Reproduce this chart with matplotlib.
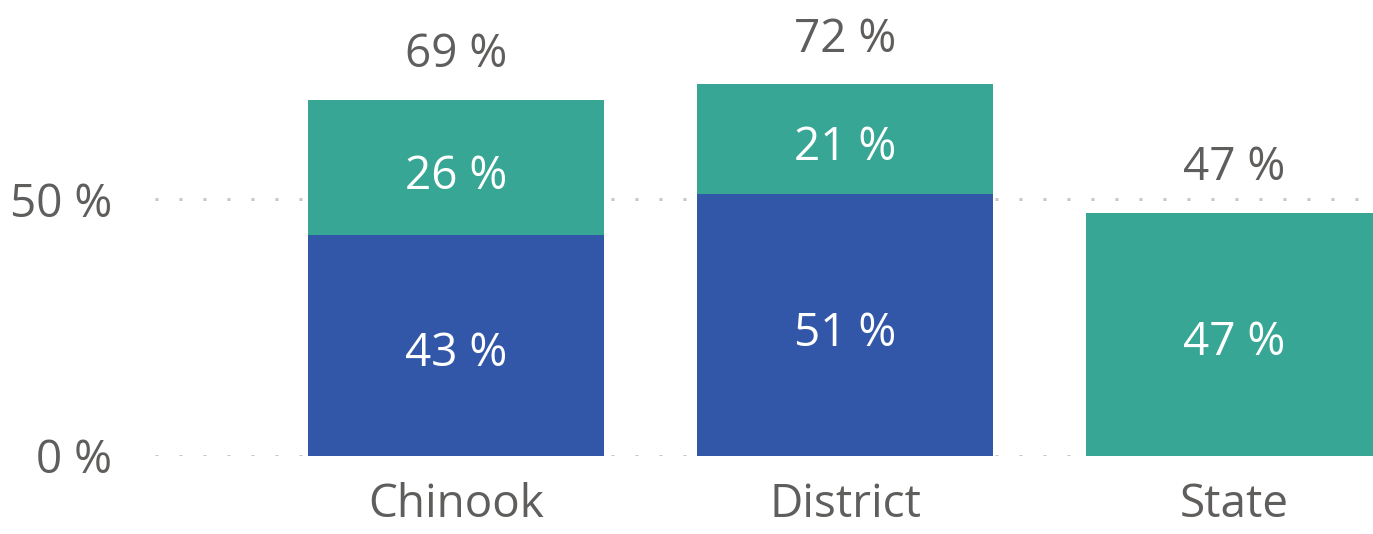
import matplotlib
matplotlib.use("Agg")
import matplotlib.pyplot as plt
import numpy as np

# data
categories = ["Chinook", "District", "State"]
blue_vals = [43.0, 51.0, 0.0]
teal_vals = [26.4, 21.4, 47.4]
ytick_vals = [0, 50]
ytick_labels = ["0 %", "50 %"]

blue = "#3357A8"
teal = "#37A694"
gray = "#605E5C"
grid_col = "#C8C8C8"

plt.rcParams["font.family"] = ["Open Sans", "DejaVu Sans"]

fig = plt.figure(figsize=(13.73, 5.34), dpi=100)
ax = fig.add_axes([155 / 1373, (534 - 455.7) / 534, 1 - 155 / 1373, 455.7 / 534])

x = np.arange(len(categories))
width = 0.76
totals = [b + t for b, t in zip(blue_vals, teal_vals)]

ax.set_ylim(0, 455.7 / 256.4 * 50)
ax.set_xlim(-0.774, 2.357)

# dotted gridlines
for v in ytick_vals:
    ax.axhline(v, color=grid_col, lw=2.16, linestyle=(0, (1, 7)),
               dash_capstyle="butt", zorder=0)

ax.bar(x, blue_vals, width, color=blue, zorder=2)
ax.bar(x, teal_vals, width, bottom=blue_vals, color=teal, zorder=2)

fs = 33
for i in range(len(categories)):
    if blue_vals[i] > 0:
        ax.annotate("{:.0f} %".format(blue_vals[i]), (x[i], blue_vals[i] / 2),
                    xytext=(0, -6.5), textcoords="offset points",
                    ha="center", va="center", color="white", fontsize=fs)
    if teal_vals[i] > 0:
        ax.annotate("{:.0f} %".format(teal_vals[i]),
                    (x[i], blue_vals[i] + teal_vals[i] / 2),
                    xytext=(0, -6.5), textcoords="offset points",
                    ha="center", va="center", color="white", fontsize=fs)
    ax.annotate("{:.0f} %".format(totals[i]), (x[i], totals[i]),
                xytext=(0, 32), textcoords="offset points",
                ha="center", va="center", color=gray, fontsize=fs)

ax.set_xticks(x)
ax.set_xticklabels(categories)
ax.set_yticks(ytick_vals)
ax.set_yticklabels(ytick_labels)
ax.tick_params(length=0, labelsize=fs, labelcolor=gray)
ax.tick_params(axis="y", pad=31)
ax.tick_params(axis="x", pad=19)
for lab in ax.get_yticklabels():
    lab.set_verticalalignment("center_baseline")
for s in ax.spines.values():
    s.set_visible(False)

fig.savefig("out.png", dpi=100)
